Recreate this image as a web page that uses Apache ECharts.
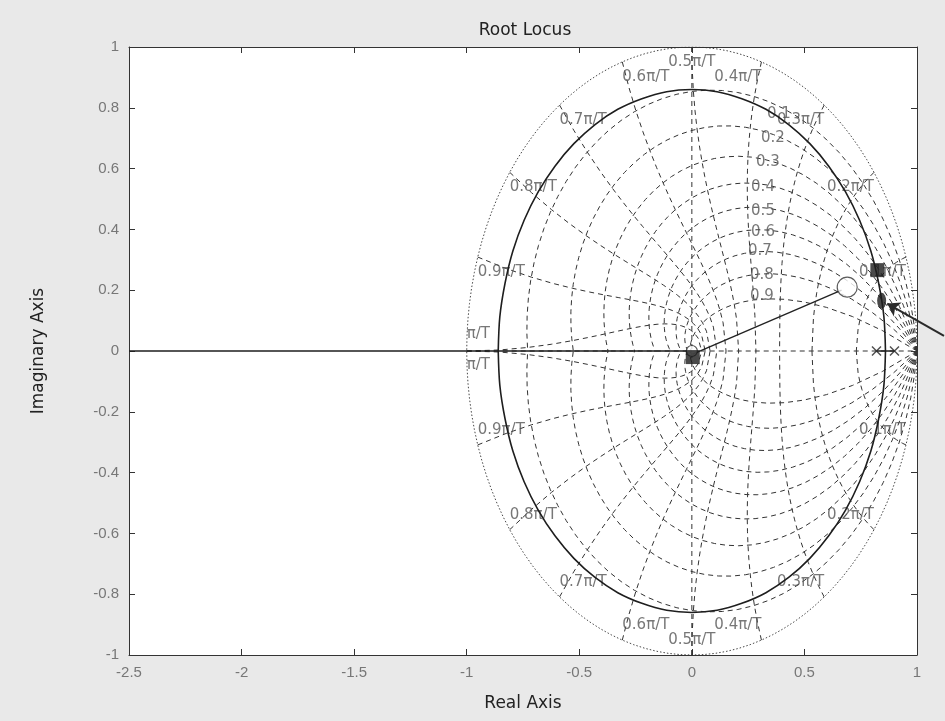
<!DOCTYPE html>
<html>
<head>
<meta charset="utf-8">
<title>Root Locus</title>
<script src="https://cdn.jsdelivr.net/npm/echarts@6/dist/echarts.min.js"></script>
<style>
  html, body { margin: 0; padding: 0; background: #e9e9e9; }
  #chart { width: 945px; height: 721px; }
</style>
</head>
<body>
<div id="chart"></div>
<script>
// axis ticks
const xTicks = [-2.5, -2, -1.5, -1, -0.5, 0, 0.5, 1];
const yTicks = [-1, -0.8, -0.6, -0.4, -0.2, 0, 0.2, 0.4, 0.6, 0.8, 1];

// open loop poles and zero (z-plane, on the real axis)
const poles = [0.82, 0.90];
const zeros = [0];

// complex branches of the locus, upper half (lower half is the conjugate)
const locusUpper = [
  [0.86, 0], [0.853, 0.112], [0.83, 0.222], [0.795, 0.329], [0.745, 0.43],
  [0.682, 0.524], [0.608, 0.608], [0.524, 0.682], [0.43, 0.745], [0.329, 0.795],
  [0.222, 0.83], [0.112, 0.853], [0, 0.86], [-0.112, 0.853], [-0.222, 0.83],
  [-0.329, 0.795], [-0.43, 0.745], [-0.524, 0.682], [-0.608, 0.608], [-0.682, 0.524],
  [-0.745, 0.43], [-0.795, 0.329], [-0.83, 0.222], [-0.853, 0.112], [-0.86, 0]
];
// branches on the real axis
const locusRealLeft = [[-2.5, 0], [0, 0]];
const locusRealRight = [[0.82, 0], [0.90, 0]];

// marks added on the figure
const squarePts = [[0.824, 0.266], [0.004, -0.02]];
const openPt = [0.69, 0.21];
const rayPts = [[0.004, -0.01], [0.665, 0.2]];
const blobPt = [0.843, 0.165];
const arrowPts = [[1.12, 0.05], [0.868, 0.156]];

// zgrid
const zetaList = [0.1, 0.2, 0.3, 0.4, 0.5, 0.6, 0.7, 0.8, 0.9];
const wnList = [0.1, 0.2, 0.3, 0.4, 0.5, 0.6, 0.7, 0.8, 0.9, 1.0]; // times pi/T
const zetaLabelAt = [
  [0.334, 0.78], [0.307, 0.70], [0.285, 0.62], [0.263, 0.54], [0.263, 0.46],
  [0.263, 0.39], [0.249, 0.33], [0.258, 0.25], [0.258, 0.18]
];

const GRID_COLOR = '#333';
const TEXT_COLOR = '#555';
const FONT = 'Liberation Sans, Arial, sans-serif';
const WIDE = 'DejaVu Sans, sans-serif';

function spiral(zeta, sgn) {
  const m = zeta / Math.sqrt(1 - zeta * zeta);
  const pts = [];
  for (let k = 0; k <= 40; k++) {
    const th = Math.PI * k / 40;
    const r = Math.exp(-m * th);
    pts.push([r * Math.cos(th), sgn * r * Math.sin(th)]);
  }
  return pts;
}

function wnCurve(wn, sgn) {
  const a = wn * Math.PI;
  const pts = [];
  for (let k = 0; k <= 20; k++) {
    const z = k / 20;
    const r = Math.exp(-z * a);
    const ang = a * Math.sqrt(1 - z * z);
    pts.push([r * Math.cos(ang), sgn * r * Math.sin(ang)]);
  }
  return pts;
}

function unitCircle() {
  const pts = [];
  for (let k = 0; k <= 120; k++) {
    const th = 2 * Math.PI * k / 120;
    pts.push([Math.cos(th), Math.sin(th)]);
  }
  return pts;
}

function gridLine(data, dash, w) {
  return {
    type: 'line', data: data, showSymbol: false, silent: true, z: 1,
    lineStyle: { color: GRID_COLOR, width: w || 1, type: dash || [5, 4] }
  };
}

const series = [];
zetaList.forEach(z => {
  series.push(gridLine(spiral(z, 1)));
  series.push(gridLine(spiral(z, -1)));
});
wnList.forEach(w => {
  series.push(gridLine(wnCurve(w, 1)));
  series.push(gridLine(wnCurve(w, -1)));
});
series.push(gridLine([[-1, 0], [1, 0]]));
series.push(gridLine([[0, -1], [0, 1]]));
series.push(gridLine(unitCircle(), [1.5, 2], 0.9));

// grid labels
const gridLabels = [];
wnList.forEach(w => {
  const th = w * Math.PI;
  const c = Math.cos(th), s = Math.sin(th);
  const txt = (w === 1 ? '' : w.toFixed(1)) + 'π/T';
  const align = Math.abs(c) < 0.01 ? 'center' : (c < 0 ? 'left' : 'right');
  gridLabels.push({ value: [c, s], label: { formatter: txt, align: align, offset: [0, w === 1 ? -17 : 15] } });
  gridLabels.push({ value: [c, -s], label: { formatter: txt, align: align, offset: [0, w === 1 ? 14 : -15] } });
});
zetaList.forEach((z, i) => {
  gridLabels.push({ value: zetaLabelAt[i], label: { formatter: z.toFixed(1), align: 'left', offset: [0, 0] } });
});
series.push({
  type: 'scatter', data: gridLabels, symbolSize: 1, silent: true, z: 2,
  itemStyle: { color: 'rgba(0,0,0,0)' },
  label: {
    show: true, position: 'inside', verticalAlign: 'middle',
    color: TEXT_COLOR, fontSize: 15, fontFamily: WIDE
  }
});

// locus
const locusStyle = { color: '#1e1e1e', width: 1.6 };
series.push({ type: 'line', data: locusUpper, smooth: 0.3, showSymbol: false, z: 3, lineStyle: locusStyle });
series.push({ type: 'line', data: locusUpper.map(p => [p[0], -p[1]]), smooth: 0.3, showSymbol: false, z: 3, lineStyle: locusStyle });
series.push({ type: 'line', data: locusRealLeft, showSymbol: false, z: 3, lineStyle: locusStyle });
series.push({ type: 'line', data: locusRealRight, showSymbol: false, z: 3, lineStyle: locusStyle });
series.push({ type: 'line', data: rayPts, showSymbol: false, z: 3, lineStyle: { color: '#222', width: 1.4 } });

// poles and zero
series.push({
  type: 'scatter', data: poles.map(p => [p, 0]), z: 4,
  symbol: 'path://M0,1L1,0L5,4L9,0L10,1L6,5L10,9L9,10L5,6L1,10L0,9L4,5Z',
  symbolSize: 10, itemStyle: { color: '#222' }
});
series.push({
  type: 'scatter', data: zeros.map(p => [p, 0]), z: 4, symbol: 'circle', symbolSize: 11,
  itemStyle: { color: '#fff', borderColor: '#222', borderWidth: 1.2 }
});
series.push({
  type: 'scatter', data: [openPt], z: 5, symbol: 'circle', symbolSize: 20,
  itemStyle: { color: '#fff', borderColor: '#333', borderWidth: 1.2 }
});
series.push({
  type: 'scatter', data: squarePts, z: 6, symbol: 'rect', symbolSize: 14,
  itemStyle: { color: '#1c1c1c' }
});
series.push({
  type: 'scatter', data: [blobPt], z: 6, symbol: 'circle', symbolSize: [9, 16],
  itemStyle: { color: '#1c1c1c' }
});
series.push({
  type: 'lines', coordinateSystem: 'cartesian2d', clip: false, z: 7,
  data: [{ coords: arrowPts }],
  symbol: ['none', 'arrow'], symbolSize: 12,
  lineStyle: { color: '#2a2a2a', width: 2, opacity: 1 }
});

const axisCommon = {
  axisLine: { show: true, onZero: false, lineStyle: { color: '#333', width: 1 } },
  axisTick: { show: true, inside: true, length: 6, lineStyle: { color: '#333' } },
  splitLine: { show: false }
};

const chart = echarts.init(document.getElementById('chart'));
chart.setOption({
  backgroundColor: '#e9e9e9',
  animation: false,
  title: {
    text: 'Root Locus', left: 520, top: 17, textAlign: 'center',
    textStyle: { fontSize: 17, fontWeight: 'normal', color: '#222', fontFamily: WIDE }
  },
  grid: { left: 129, top: 47, width: 788, height: 608, show: true, backgroundColor: '#fff', borderWidth: 0 },
  xAxis: [
    Object.assign({
      type: 'value', position: 'bottom', min: xTicks[0], max: xTicks[xTicks.length - 1],
      interval: xTicks[1] - xTicks[0],
      name: 'Real Axis', nameLocation: 'middle', nameGap: 40,
      nameTextStyle: { fontSize: 17, color: '#222', fontFamily: WIDE },
      axisLabel: { margin: 10, fontSize: 15, color: '#777', fontFamily: FONT }
    }, axisCommon),
    Object.assign({
      type: 'value', position: 'top', min: xTicks[0], max: xTicks[xTicks.length - 1],
      interval: xTicks[1] - xTicks[0], axisLabel: { show: false }
    }, axisCommon)
  ],
  yAxis: [
    Object.assign({
      type: 'value', position: 'left', min: yTicks[0], max: yTicks[yTicks.length - 1],
      interval: 0.2,
      name: 'Imaginary Axis', nameLocation: 'middle', nameGap: 82, nameRotate: 90,
      nameTextStyle: { fontSize: 17, color: '#222', fontFamily: WIDE },
      axisLabel: { margin: 10, fontSize: 15, color: '#777', fontFamily: FONT }
    }, axisCommon),
    Object.assign({
      type: 'value', position: 'right', min: yTicks[0], max: yTicks[yTicks.length - 1],
      interval: 0.2, axisLabel: { show: false }
    }, axisCommon)
  ],
  series: series
});
</script>
</body>
</html>
